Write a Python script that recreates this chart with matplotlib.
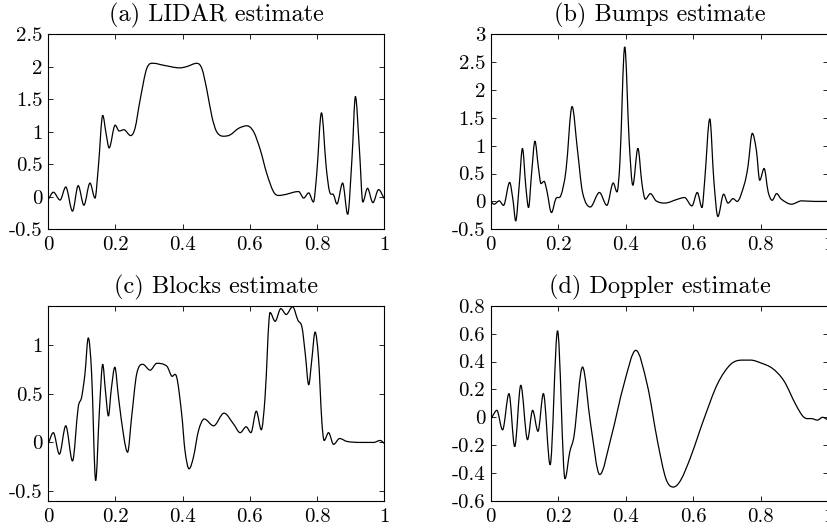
import matplotlib
matplotlib.use("Agg")
import matplotlib.pyplot as plt
from matplotlib.path import Path
from matplotlib.patches import PathPatch

plt.rcParams["font.family"] = "cmr10"
plt.rcParams["mathtext.fontset"] = "cm"
plt.rcParams["axes.unicode_minus"] = False
plt.rcParams["axes.formatter.use_mathtext"] = True

# (a) LIDAR estimate
lidar_x = [0.0, 0.015, 0.035, 0.052, 0.072, 0.089, 0.106, 0.124, 0.139, 0.149,
           0.162, 0.172, 0.181, 0.199, 0.211, 0.225, 0.245, 0.258, 0.273, 0.293,
           0.313, 0.343, 0.392, 0.412, 0.442, 0.457, 0.472, 0.487, 0.501, 0.521,
           0.541, 0.566, 0.591, 0.611, 0.631, 0.650, 0.670, 0.685, 0.710, 0.730,
           0.745, 0.760, 0.775, 0.789, 0.799, 0.813, 0.827, 0.837, 0.849, 0.859,
           0.876, 0.891, 0.904, 0.914, 0.926, 0.936, 0.950, 0.966, 0.983, 1.0]
lidar_y = [-0.04, 0.07, -0.05, 0.15, -0.22, 0.17, -0.13, 0.21, -0.02, 0.46,
           1.25, 0.97, 0.75, 1.10, 1.01, 1.03, 0.94, 1.05, 1.48, 1.97,
           2.05, 2.02, 1.98, 2.00, 2.05, 1.97, 1.64, 1.23, 1.00, 0.93,
           0.95, 1.05, 1.09, 1.00, 0.72, 0.36, 0.08, 0.02, 0.04, 0.07,
           0.08, -0.02, 0.06, -0.08, 0.36, 1.29, 0.46, 0.08, 0.03, -0.11,
           0.21, -0.27, 0.61, 1.54, 0.72, -0.08, 0.13, -0.09, 0.11, -0.03]

# (b) Bumps estimate
bumps_x = [0.0, 0.010, 0.025, 0.038, 0.056, 0.066, 0.074, 0.084, 0.094, 0.104,
           0.112, 0.121, 0.131, 0.141, 0.149, 0.158, 0.166, 0.180, 0.193, 0.208,
           0.223, 0.241, 0.257, 0.272, 0.295, 0.322, 0.344, 0.363, 0.374, 0.383,
           0.397, 0.410, 0.421, 0.436, 0.448, 0.458, 0.473, 0.490, 0.515, 0.554,
           0.574, 0.596, 0.612, 0.626, 0.634, 0.649, 0.661, 0.673, 0.690, 0.703,
           0.718, 0.730, 0.752, 0.762, 0.775, 0.787, 0.797, 0.810, 0.822, 0.834,
           0.847, 0.861, 0.891, 0.921, 0.960, 1.0]
bumps_y = [0.0, -0.05, 0.01, -0.07, 0.34, 0.02, -0.35, 0.26, 0.95, 0.26,
           -0.11, 0.50, 1.08, 0.62, 0.32, 0.36, 0.20, -0.20, 0.05, 0.11,
           0.56, 1.70, 0.92, 0.16, -0.10, 0.16, -0.07, 0.33, 0.17, 0.74,
           2.77, 1.10, 0.29, 0.95, 0.32, 0.04, 0.14, 0.01, -0.03, 0.04,
           0.07, -0.08, 0.16, -0.11, 0.38, 1.48, 0.38, -0.27, 0.13, -0.03,
           0.05, 0.00, 0.32, 0.62, 1.22, 0.92, 0.38, 0.59, 0.17, 0.02,
           0.14, 0.04, -0.05, 0.01, 0.0, 0.0]

# (c) Blocks estimate
blocks_x = [0.0, 0.015, 0.033, 0.052, 0.072, 0.089, 0.099, 0.109, 0.119, 0.129,
            0.141, 0.152, 0.162, 0.170, 0.179, 0.187, 0.198, 0.209, 0.225, 0.236,
            0.248, 0.263, 0.281, 0.303, 0.323, 0.353, 0.367, 0.382, 0.397, 0.407,
            0.419, 0.432, 0.447, 0.464, 0.492, 0.523, 0.551, 0.571, 0.589, 0.603,
            0.619, 0.634, 0.645, 0.660, 0.675, 0.692, 0.708, 0.727, 0.743, 0.755,
            0.765, 0.775, 0.784, 0.794, 0.804, 0.814, 0.821, 0.834, 0.849, 0.867,
            0.889, 0.929, 0.968, 0.988, 1.0]
blocks_y = [-0.01, 0.10, -0.12, 0.17, -0.19, 0.36, 0.46, 0.70, 1.07, 0.70,
            -0.39, 0.32, 0.80, 0.53, 0.27, 0.53, 0.77, 0.46, 0.05, -0.10,
            0.26, 0.70, 0.80, 0.74, 0.81, 0.78, 0.68, 0.67, 0.29, -0.09,
            -0.27, -0.15, 0.12, 0.24, 0.17, 0.30, 0.19, 0.10, 0.16, 0.10,
            0.32, 0.13, 0.46, 1.33, 1.24, 1.37, 1.31, 1.39, 1.25, 1.18,
            0.90, 0.59, 0.84, 1.13, 0.87, 0.22, 0.02, 0.10, -0.02, 0.04,
            0.01, 0.00, 0.0, 0.02, -0.01]

# (d) Doppler estimate
doppler_x = [0.0, 0.008, 0.018, 0.035, 0.054, 0.071, 0.089, 0.109, 0.124, 0.140,
             0.156, 0.176, 0.198, 0.220, 0.234, 0.247, 0.272, 0.296, 0.323, 0.356,
             0.395, 0.430, 0.464, 0.494, 0.519, 0.541, 0.563, 0.593, 0.632, 0.672,
             0.711, 0.746, 0.770, 0.800, 0.835, 0.869, 0.904, 0.928, 0.953, 0.968,
             0.983, 1.0]
doppler_y = [-0.02, 0.02, 0.05, -0.09, 0.17, -0.21, 0.23, -0.16, 0.05, -0.10,
             0.17, -0.34, 0.62, -0.44, -0.25, -0.13, 0.36, -0.05, -0.41, -0.15,
             0.24, 0.48, 0.23, -0.17, -0.44, -0.50, -0.45, -0.28, -0.01, 0.24,
             0.38, 0.41, 0.41, 0.39, 0.35, 0.26, 0.09, 0.00, -0.01, -0.02,
             0.00, -0.02]

x_ticks = [0, 0.2, 0.4, 0.6, 0.8, 1]
x_labels = ["0", "0.2", "0.4", "0.6", "0.8", "1"]

panels = [
    ("(a) LIDAR estimate", lidar_x, lidar_y, (-0.5, 2.5),
     [-0.5, 0, 0.5, 1, 1.5, 2, 2.5], ["-0.5", "0", "0.5", "1", "1.5", "2", "2.5"]),
    ("(b) Bumps estimate", bumps_x, bumps_y, (-0.5, 3),
     [-0.5, 0, 0.5, 1, 1.5, 2, 2.5, 3], ["-0.5", "0", "0.5", "1", "1.5", "2", "2.5", "3"]),
    ("(c) Blocks estimate", blocks_x, blocks_y, (-0.6, 1.4),
     [-0.5, 0, 0.5, 1], ["-0.5", "0", "0.5", "1"]),
    ("(d) Doppler estimate", doppler_x, doppler_y, (-0.6, 0.8),
     [-0.6, -0.4, -0.2, 0, 0.2, 0.4, 0.6, 0.8],
     ["-0.6", "-0.4", "-0.2", "0", "0.2", "0.4", "0.6", "0.8"]),
]

# axes boxes in figure fractions (left, bottom, width, height)
boxes = [
    (0.0584, 0.5665, 0.4063, 0.3692),
    (0.5934, 0.5665, 0.4081, 0.3692),
    (0.0584, 0.0529, 0.4063, 0.3692),
    (0.5934, 0.0529, 0.4081, 0.3692),
]


def smooth_path(xs, ys):
    """Bezier curve through the read points (flat at local peaks/dips)."""
    n = len(xs)
    slopes = []
    for i in range(n):
        if i == 0:
            m = (ys[1] - ys[0]) / (xs[1] - xs[0])
        elif i == n - 1:
            m = (ys[-1] - ys[-2]) / (xs[-1] - xs[-2])
        elif (ys[i] - ys[i - 1]) * (ys[i + 1] - ys[i]) <= 0:
            m = 0.0
        else:
            m = (ys[i + 1] - ys[i - 1]) / (xs[i + 1] - xs[i - 1])
        slopes.append(m)
    verts = [(xs[0], ys[0])]
    codes = [Path.MOVETO]
    for i in range(n - 1):
        dx = (xs[i + 1] - xs[i]) / 3
        verts += [(xs[i] + dx, ys[i] + slopes[i] * dx),
                  (xs[i + 1] - dx, ys[i + 1] - slopes[i + 1] * dx),
                  (xs[i + 1], ys[i + 1])]
        codes += [Path.CURVE4] * 3
    return Path(verts, codes)


fig = plt.figure(figsize=(8.27, 5.29), dpi=100)

for (title, xs, ys, ylim, yt, ytl), box in zip(panels, boxes):
    ax = fig.add_axes(box)
    ax.add_patch(PathPatch(smooth_path(xs, ys), facecolor="none",
                           edgecolor="black", linewidth=0.9))
    ax.set_xlim(0, 1)
    ax.set_ylim(*ylim)
    ax.set_xticks(x_ticks)
    ax.set_xticklabels(x_labels)
    ax.set_yticks(yt)
    ax.set_yticklabels(ytl)
    ax.tick_params(direction="in", top=True, right=True, length=3.5, width=0.6,
                   labelsize=15)
    ax.tick_params(axis="x", pad=5)
    ax.tick_params(axis="y", pad=4)
    for s in ax.spines.values():
        s.set_linewidth(0.8)
    ax.set_title(title, fontsize=17.5, pad=9)

fig.savefig("out.png", dpi=100)
